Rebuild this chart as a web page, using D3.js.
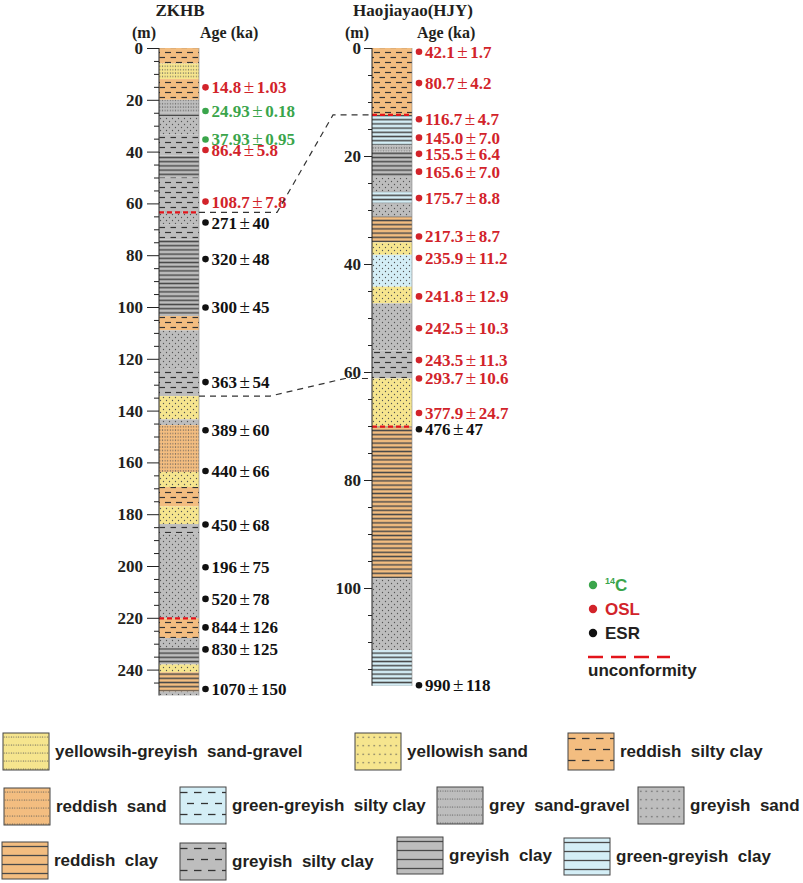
<!DOCTYPE html>
<html>
<head>
<meta charset="utf-8">
<script src="https://cdn.jsdelivr.net/npm/d3@7"></script>
<style>
body { margin: 0; background: #fff; }
text { white-space: pre; }
.serif { font-family: "Liberation Serif", "Times New Roman", serif; font-weight: bold; }
.sans { font-family: "Liberation Sans", Arial, sans-serif; font-weight: bold; }
</style>
</head>
<body>
<svg id="chart" width="803" height="883"></svg>
<script>
// lithology layers: [top (m), bottom (m), type]
const zkhbLayers = [
    [0, 6, 'rsc'], [6, 12, 'ygsg'], [12, 20, 'rsc'], [20, 25, 'gsg'], [25, 26.5, 'gc'],
    [26.5, 33.5, 'gs'], [33.5, 41.5, 'gsc'], [41.5, 50, 'gc'], [50, 63.5, 'gsc'],
    [63.5, 68, 'gs'], [68, 74, 'gsc'], [74, 103.5, 'gc'], [103.5, 109, 'rsc'],
    [109, 123.6, 'gs'], [123.6, 134.4, 'gsc'], [134.4, 143.4, 'ys'], [143.4, 145.6, 'gs'],
    [145.6, 163.7, 'rs'], [163.7, 169.5, 'ys'], [169.5, 177, 'rsc'], [177, 183.8, 'ys'],
    [183.8, 187.3, 'gsc'], [187.3, 220.2, 'gs'], [220.2, 227.8, 'rsc'], [227.8, 231.7, 'gs'],
    [231.7, 238, 'gc'], [238, 241, 'ys'], [241, 248.5, 'rc'], [248.5, 250, 'gs']
];

const hjyLayers = [
    [0, 12.4, 'rsc'], [12.4, 18, 'ggc'], [18, 19.2, 'gsg'], [19.2, 24, 'gc'], [24, 26.6, 'gs'],
    [26.6, 28.8, 'ggc'], [28.8, 31.2, 'gs'], [31.2, 36, 'rc'], [36, 38.3, 'ys'],
    [38.3, 44.2, 'ggs'], [44.2, 47.3, 'ys'], [47.3, 56, 'gs'], [56, 61.2, 'gsc'],
    [61.2, 70.1, 'ys'], [70.1, 98.2, 'rc'], [98.2, 111.5, 'gs'], [111.5, 118.1, 'ggc']
];

const zkhbUnconformities = [63.5, 220.2];
const hjyUnconformities = [12.4, 70.1];

// dating samples: [depth (m), age, error, method]
const zkhbAges = [
    [15.2, '14.8', '1.03', 'OSL'], [24.3, '24.93', '0.18', '14C'], [35.3, '37.93', '0.95', '14C'],
    [39.4, '86.4', '5.8', 'OSL'], [59.3, '108.7', '7.8', 'OSL'], [67.4, '271', '40', 'ESR'],
    [81.5, '320', '48', 'ESR'], [100.2, '300', '45', 'ESR'], [129, '363', '54', 'ESR'],
    [147.6, '389', '60', 'ESR'], [163.3, '440', '66', 'ESR'], [184, '450', '68', 'ESR'],
    [200.5, '196', '75', 'ESR'], [212.7, '520', '78', 'ESR'], [223.7, '844', '126', 'ESR'],
    [232.2, '830', '125', 'ESR'], [247.5, '1070', '150', 'ESR']
];

const hjyAges = [
    [0.7, '42.1', '1.7', 'OSL'], [6.5, '80.7', '4.2', 'OSL'], [13.2, '116.7', '4.7', 'OSL'],
    [16.6, '145.0', '7.0', 'OSL'], [19.6, '155.5', '6.4', 'OSL'], [22.9, '165.6', '7.0', 'OSL'],
    [27.8, '175.7', '8.8', 'OSL'], [34.9, '217.3', '8.7', 'OSL'], [38.9, '235.9', '11.2', 'OSL'],
    [46, '241.8', '12.9', 'OSL'], [51.9, '242.5', '10.3', 'OSL'], [57.8, '243.5', '11.3', 'OSL'],
    [61.2, '293.7', '10.6', 'OSL'], [67.6, '377.9', '24.7', 'OSL'], [70.6, '476', '47', 'ESR'],
    [118, '990', '118', 'ESR']
];

// correlation: [ZKHB depth, HJY depth]
const correlations = [[63.5, 12.4], [134.4, 61.2]];

const zkhbTicks = d3.range(0, 241, 20);
const hjyTicks = d3.range(0, 101, 20);

const legendTypes = ['ygsg', 'ys', 'rsc', 'rs', 'ggsc', 'gsg', 'gs', 'rc', 'gsc', 'gc', 'ggc'];
const legendLabels = [
    'yellowsih-greyish  sand-gravel', 'yellowish sand', 'reddish  silty clay',
    'reddish  sand', 'green-greyish  silty clay', 'grey  sand-gravel', 'greyish  sand',
    'reddish  clay', 'greyish  silty clay', 'greyish  clay', 'green-greyish  clay'
];

const methods = ['14C', 'OSL', 'ESR'];
const methodColors = { '14C': '#3aa54b', 'OSL': '#d2232a', 'ESR': '#111' };

const fills = { orange: '#f3bd80', yellow: '#f6e58e', grey: '#bdbdbd', blue: '#d4eef6' };
const lith = {
    ygsg: [fills.yellow, 'dotline'], ys: [fills.yellow, 'dots'], rsc: [fills.orange, 'dash'],
    rs: [fills.orange, 'dotline'], ggsc: [fills.blue, 'dash'], gsg: [fills.grey, 'dotline'],
    gs: [fills.grey, 'dots'], rc: [fills.orange, 'line'], gsc: [fills.grey, 'dash'],
    gc: [fills.grey, 'line'], ggc: [fills.blue, 'line'], ggs: [fills.blue, 'dots']
};

const svg = d3.select('#chart'),
    defs = svg.append('defs');

const patternSizes = {
    col: {
        dash: { w: 11, h: 10, len: 6, sw: 1.2 }, line: { h: 4.2, sw: 1.5 },
        dots: { w: 6, h: 6, r: 0.65, stagger: true }, dotline: { w: 2.6, h: 3.4, r: 0.6 }
    },
    leg: {
        dash: { w: 14, h: 22, len: 7.5, sw: 1.3 }, line: { h: 9, sw: 1.3 },
        dots: { w: 5.5, h: 8.5, r: 0.75, stagger: false }, dotline: { w: 2.4, h: 8, r: 0.6 }
    }
};

function addPattern(key, set) {
    const [color, kind] = lith[key],
        o = patternSizes[set][kind],
        w = o.w || 10,
        p = defs.append('pattern')
            .attr('id', 'p-' + set + '-' + key)
            .attr('patternUnits', 'userSpaceOnUse')
            .attr('width', w)
            .attr('height', o.h);

    p.append('rect').attr('width', w).attr('height', o.h).attr('fill', color);

    if (kind === 'dash') {
        p.append('line').attr('x1', 0).attr('x2', o.len).attr('y1', o.h / 4).attr('y2', o.h / 4)
            .attr('stroke', '#333').attr('stroke-width', o.sw);
        p.append('line').attr('x1', w / 2).attr('x2', Math.min(w, w / 2 + o.len)).attr('y1', o.h * 3 / 4).attr('y2', o.h * 3 / 4)
            .attr('stroke', '#333').attr('stroke-width', o.sw);
    } else if (kind === 'line') {
        p.append('line').attr('x1', 0).attr('x2', w).attr('y1', o.h / 2).attr('y2', o.h / 2)
            .attr('stroke', '#4a4a4a').attr('stroke-width', o.sw);
    } else if (kind === 'dots' && o.stagger) {
        [[w / 4, o.h / 4], [w * 3 / 4, o.h * 3 / 4]].forEach(c => {
            p.append('circle').attr('cx', c[0]).attr('cy', c[1]).attr('r', o.r).attr('fill', '#555');
        });
    } else {
        p.append('circle').attr('cx', w / 2).attr('cy', o.h / 2).attr('r', o.r).attr('fill', '#555');
    }
}

Object.keys(lith).forEach(k => { addPattern(k, 'col'); addPattern(k, 'leg'); });

function drawColumn(cfg) {
    const y = d3.scaleLinear().domain([0, cfg.maxDepth]).range([48, 48 + cfg.maxDepth * cfg.pxPerM]),
        g = svg.append('g');

    g.selectAll('rect.layer')
        .data(cfg.layers)
        .enter()
        .append('rect')
        .classed('layer', true)
        .attr('x', cfg.x)
        .attr('width', cfg.width)
        .attr('y', d => y(d[0]))
        .attr('height', d => y(d[1]) - y(d[0]))
        .attr('fill', d => 'url(#p-col-' + d[2] + ')');

    g.append('line')
        .attr('x1', cfg.x + cfg.width).attr('x2', cfg.x + cfg.width)
        .attr('y1', y(0)).attr('y2', y(cfg.maxDepth))
        .attr('stroke', '#888').attr('stroke-width', 0.6);

    g.selectAll('line.unconf')
        .data(cfg.unconf)
        .enter()
        .append('line')
        .classed('unconf', true)
        .attr('x1', cfg.x).attr('x2', cfg.x + cfg.width)
        .attr('y1', d => y(d)).attr('y2', d => y(d))
        .attr('stroke', '#e3141b').attr('stroke-width', 2.2).attr('stroke-dasharray', '5,3');

    // minor ticks
    g.append('g')
        .attr('transform', 'translate(' + cfg.x + ',0)')
        .call(d3.axisLeft(y).tickValues(d3.range(0, cfg.maxDepth, 5).filter(v => v % 20 !== 0))
            .tickSize(cfg.minorTick).tickSizeOuter(0).tickFormat(''))
        .call(a => a.select('.domain').remove())
        .selectAll('line').attr('stroke', '#222');

    const axis = g.append('g')
        .attr('transform', 'translate(' + cfg.x + ',0)')
        .call(d3.axisLeft(y).tickValues(cfg.ticks).tickSize(cfg.majorTick).tickPadding(cfg.tickPad).tickSizeOuter(0));

    axis.select('.domain').attr('d', 'M0,' + y(0) + 'V' + y(cfg.maxDepth)).attr('stroke', '#222');
    axis.selectAll('line').attr('stroke', '#222');
    axis.selectAll('text').attr('class', 'serif').attr('font-size', 17).attr('fill', '#231f20');

    svg.append('text').attr('class', 'serif').attr('font-size', 17).attr('fill', '#231f20')
        .attr('x', cfg.titleX).attr('y', 16).attr('text-anchor', 'middle').text(cfg.title);
    svg.append('text').attr('class', 'serif').attr('font-size', 16).attr('fill', '#231f20')
        .attr('x', cfg.x - 3).attr('y', 38).attr('text-anchor', 'end').text('(m)');
    svg.append('text').attr('class', 'serif').attr('font-size', 16).attr('fill', '#231f20')
        .attr('x', cfg.ageX).attr('y', 38).text('Age (ka)');

    const ages = g.selectAll('g.age')
        .data(cfg.ages)
        .enter()
        .append('g')
        .classed('age', true)
        .attr('transform', d => 'translate(' + cfg.dotX + ',' + y(d[0]) + ')');

    ages.append('circle').attr('r', 3.3).attr('fill', d => methodColors[d[3]]);

    const label = ages.append('text')
        .attr('class', 'serif')
        .attr('font-size', 17)
        .attr('x', 6)
        .attr('dy', '0.35em')
        .attr('fill', d => methodColors[d[3]]);
    label.append('tspan').text(d => d[1]);
    label.append('tspan').attr('dx', 2.5).attr('font-weight', 'normal').attr('font-size', 19).text('±');
    label.append('tspan').attr('dx', 2.5).text(d => d[2]);

    return y;
}

const yZ = drawColumn({
    layers: zkhbLayers, unconf: zkhbUnconformities, ages: zkhbAges, ticks: zkhbTicks,
    maxDepth: 250, pxPerM: 2.59, x: 159, width: 40, majorTick: 12, minorTick: 5, tickPad: 4,
    title: 'ZKHB', titleX: 180, ageX: 200, dotX: 205.5
});

const yH = drawColumn({
    layers: hjyLayers, unconf: hjyUnconformities, ages: hjyAges, ticks: hjyTicks,
    maxDepth: 118.1, pxPerM: 5.4, x: 372, width: 40, majorTick: 8, minorTick: 4, tickPad: 3,
    title: 'Haojiayao(HJY)', titleX: 413, ageX: 417, dotX: 419
});

// correlation lines
const bends = [[277, 333], [270, 345]];
svg.selectAll('path.corr')
    .data(correlations)
    .enter()
    .append('path')
    .classed('corr', true)
    .attr('d', (d, i) => d3.line()([[199, yZ(d[0])], [bends[i][0], yZ(d[0])], [bends[i][1], yH(d[1])], [372, yH(d[1])]]))
    .attr('fill', 'none')
    .attr('stroke', '#333')
    .attr('stroke-width', 1.2)
    .attr('stroke-dasharray', '6,5');

// dating legend
const dl = svg.append('g').attr('transform', 'translate(593,585)');
dl.selectAll('circle')
    .data(methods)
    .enter()
    .append('circle')
    .attr('cy', (d, i) => i * 24)
    .attr('r', 4.2)
    .attr('fill', d => methodColors[d]);

const c14 = dl.append('text').attr('class', 'sans').attr('x', 12).attr('y', 6)
    .attr('font-size', 17).attr('fill', methodColors['14C']);
c14.append('tspan').attr('font-size', 9).attr('dy', -7).text('14');
c14.append('tspan').attr('dy', 7).text('C');

dl.append('text').attr('class', 'sans').attr('x', 12).attr('y', 30).attr('font-size', 17)
    .attr('fill', methodColors.OSL).text('OSL');
dl.append('text').attr('class', 'sans').attr('x', 12).attr('y', 54).attr('font-size', 17)
    .attr('fill', '#231f20').text('ESR');
dl.append('line').attr('x1', -5).attr('x2', 77).attr('y1', 72).attr('y2', 72)
    .attr('stroke', '#e3141b').attr('stroke-width', 2.5).attr('stroke-dasharray', '15,8');
dl.append('text').attr('class', 'sans').attr('x', -5).attr('y', 91).attr('font-size', 17)
    .attr('fill', '#231f20').text('unconformity');

// lithology legend
const legendPos = [
    [3, 733], [355, 733], [568, 733],
    [4, 788], [180, 787], [437, 787], [638, 787],
    [2, 842], [180, 843], [397, 837], [564, 838]
];

const leg = svg.selectAll('g.leg')
    .data(legendTypes)
    .enter()
    .append('g')
    .classed('leg', true)
    .attr('transform', (d, i) => 'translate(' + legendPos[i][0] + ',' + legendPos[i][1] + ')');

leg.append('rect')
    .attr('width', 46)
    .attr('height', 37)
    .attr('fill', d => 'url(#p-leg-' + d + ')')
    .attr('stroke', '#444')
    .attr('stroke-width', 1);

leg.append('text')
    .attr('class', 'sans')
    .attr('font-size', 17)
    .attr('fill', '#231f20')
    .attr('x', 52)
    .attr('y', 18.5)
    .attr('dy', '0.35em')
    .text((d, i) => legendLabels[i]);
</script>
</body>
</html>
